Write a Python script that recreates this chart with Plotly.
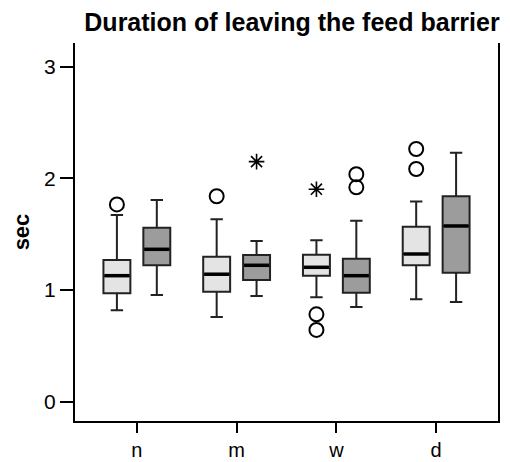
import plotly.graph_objects as go

categories = ["n", "m", "w", "d"]

# light boxes (first group)
light_q1 = [0.970, 0.985, 1.128, 1.221]
light_med = [1.128, 1.141, 1.203, 1.322]
light_q3 = [1.269, 1.298, 1.316, 1.567]
light_lo = [0.818, 0.758, 0.935, 0.917]
light_hi = [1.671, 1.633, 1.445, 1.791]
light_circles = [[1.766], [1.839], [0.782, 0.642], [2.262, 2.083]]
light_stars = [[], [], [1.902], []]

# dark boxes (second group)
dark_q1 = [1.221, 1.090, 0.976, 1.155]
dark_med = [1.364, 1.221, 1.128, 1.573]
dark_q3 = [1.558, 1.313, 1.280, 1.839]
dark_lo = [0.955, 0.946, 0.848, 0.893]
dark_hi = [1.806, 1.439, 1.620, 2.229]
dark_circles = [[], [], [2.036, 1.919], []]
dark_stars = [[], [2.149], [], []]

y_ticks = [0, 1, 2, 3]

OFFSET = 0.2
BOX_W = 0.27

fig = go.Figure()

groups = [
    (-OFFSET, light_q1, light_med, light_q3, light_lo, light_hi, light_circles, light_stars, "#e4e4e4"),
    (OFFSET, dark_q1, dark_med, dark_q3, dark_lo, dark_hi, dark_circles, dark_stars, "#9c9c9c"),
]

for off, q1, med, q3, lo, hi, circ, stars, fill in groups:
    xpos = [i + off for i in range(len(categories))]
    fig.add_trace(go.Box(
        x=xpos, q1=q1, median=med, q3=q3, lowerfence=lo, upperfence=hi,
        width=BOX_W, whiskerwidth=0.46, fillcolor=fill,
        line=dict(color="#222222", width=2), boxpoints=False,
        showlegend=False, hoverinfo="skip",
    ))
    mx, my = [], []
    for x, m in zip(xpos, med):
        mx += [x - BOX_W / 2 + 0.01, x + BOX_W / 2 - 0.01, None]
        my += [m, m, None]
    fig.add_trace(go.Scatter(x=mx, y=my, mode="lines",
                             line=dict(color="black", width=3.5),
                             showlegend=False, hoverinfo="skip"))
    cx, cy, sx, sy = [], [], [], []
    for x, cl, sl in zip(xpos, circ, stars):
        for v in cl:
            cx.append(x); cy.append(v)
        for v in sl:
            sx.append(x); sy.append(v)
    fig.add_trace(go.Scatter(x=cx, y=cy, mode="markers",
                             marker=dict(symbol="circle-open", size=14,
                                         line=dict(width=2, color="black"), color="black"),
                             showlegend=False, hoverinfo="skip"))
    fig.add_trace(go.Scatter(x=sx, y=sy, mode="markers",
                             marker=dict(symbol="asterisk-open", size=13,
                                         line=dict(width=1.6, color="black"), color="black"),
                             showlegend=False, hoverinfo="skip"))

font = "Liberation Sans, Arial, sans-serif"

fig.update_layout(
    width=510, height=462,
    margin=dict(l=75, r=12, t=43, b=41),
    paper_bgcolor="white", plot_bgcolor="white",
    font=dict(family=font, size=21, color="black"),
    title=dict(text="<b>Duration of leaving the feed barrier</b>",
               x=292 / 510, xanchor="center", xref="container",
               y=1 - 22 / 462, yanchor="middle", yref="container",
               font=dict(size=25, family=font, color="black")),
    xaxis=dict(range=[-0.62, 3.62], tickmode="array",
               tickvals=list(range(len(categories))), ticktext=categories,
               showline=True, linecolor="black", linewidth=2, mirror=False,
               ticks="outside", ticklen=10, tickwidth=2, tickcolor="black",
               showgrid=False, zeroline=False, automargin=False,
               tickfont=dict(size=20)),
    yaxis=dict(range=[-0.173, 3.211], tickmode="array", tickvals=y_ticks,
               showline=True, linecolor="black", linewidth=2, mirror=True,
               ticks="outside", ticklen=13, tickwidth=2, tickcolor="black",
               showgrid=False, zeroline=False, automargin=False,
               tickfont=dict(size=21),
               title=dict(text="<b>sec</b>", standoff=8, font=dict(size=22))),
)

fig.write_html("out.html")
